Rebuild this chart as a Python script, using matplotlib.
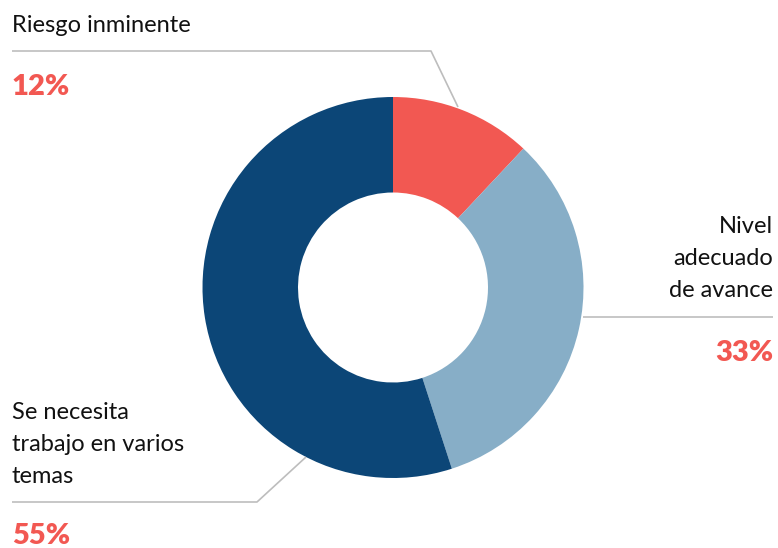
import matplotlib
matplotlib.use("Agg")
import matplotlib.pyplot as plt

plt.rcParams['font.family'] = ['Lato', 'DejaVu Sans']

categories = ["Riesgo inminente", "Nivel\nadecuado\nde avance", "Se necesita\ntrabajo en varios\ntemas"]
values = [12, 33, 55]
pct_labels = ["12%", "33%", "55%"]
colors = ["#F25852", "#87AEC7", "#0C4677"]

W, H = 778, 548
fig = plt.figure(figsize=(W / 100, H / 100), dpi=100)
ax = fig.add_axes([0, 0, 1, 1])

cx, cy, R, r = 393, 287.5, 190.5, 95
ax.pie(values, colors=colors, startangle=-90, counterclock=True,
       center=(cx, cy), radius=R,
       wedgeprops=dict(width=R - r, edgecolor='none', linewidth=0))
ax.set_xlim(0, W)
ax.set_ylim(H, 0)
ax.set_aspect('equal')
ax.axis('off')

line_kw = dict(color="#BDBDBD", lw=1.2, solid_capstyle='butt')
text_kw = dict(fontsize=17, color="#111111", fontweight='normal')
pct_kw = dict(fontsize=21, color=colors[0], fontweight='heavy')
step = 32

# label layout: (x, first baseline, ha, pct baseline, leader polyline)
layout = [
    (12, 32, 'left', 95, [(12, 51), (431, 51), (458, 107)]),
    (773, 233, 'right', 361, [(583, 317), (773, 317)]),
    (12, 419, 'left', 544, [(12, 502), (257, 502), (306, 457)]),
]

for cat, pct, (x, y0, ha, yp, pts) in zip(categories, pct_labels, layout):
    for i, line in enumerate(cat.split("\n")):
        ax.text(x, y0 + i * step, line, ha=ha, va='baseline', **text_kw)
    ax.text(x, yp, pct, ha=ha, va='baseline', **pct_kw)
    xs, ys = zip(*pts)
    ax.plot(xs, ys, **line_kw)

fig.savefig("out.png", dpi=100)
